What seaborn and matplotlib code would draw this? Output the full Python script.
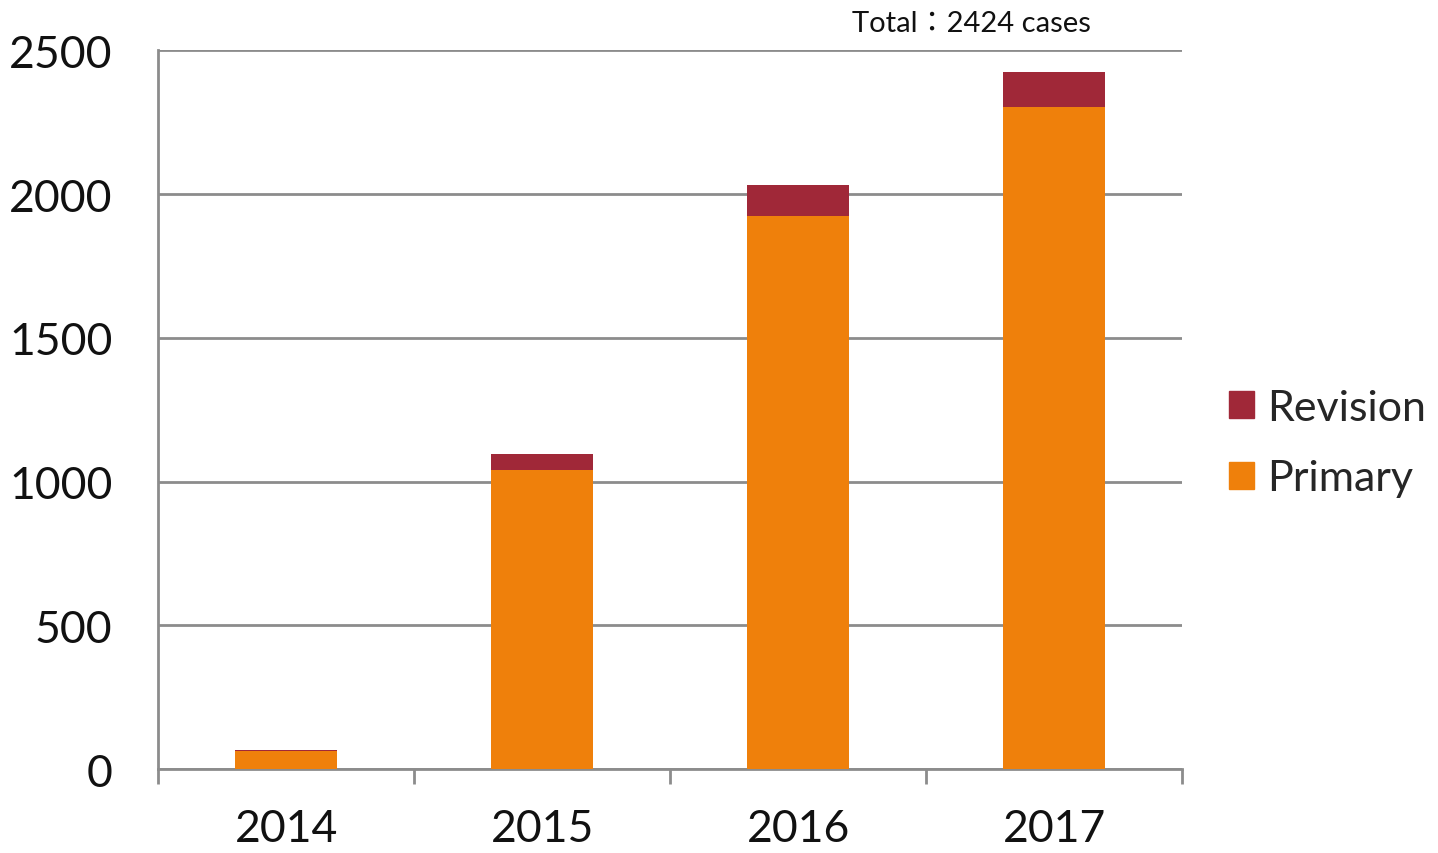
import matplotlib
matplotlib.use("Agg")
import matplotlib.pyplot as plt
import seaborn as sns
import pandas as pd
from matplotlib.patches import Patch

years = ["2014", "2015", "2016", "2017"]
primary = [65, 1041, 1922, 2303]
revision = [2, 55, 111, 121]
total_label = "Total\uff1a2424 cases"

sns.set_theme(style="white")
plt.rcParams['font.family'] = ['Lato', 'Noto Sans CJK JP', 'DejaVu Sans']

c_primary = "#EF800B"
c_revision = "#A02838"
grid_c = "#8C8C8C"

df = pd.DataFrame({"year": years, "primary": primary,
                   "total": [p + r for p, r in zip(primary, revision)]})

fig = plt.figure(figsize=(14.38, 8.54), dpi=100)
ax = fig.add_axes([0.110, 0.098, 0.712, 0.842])

sns.barplot(data=df, x="year", y="total", color=c_revision, width=0.4,
            saturation=1, ax=ax, zorder=3, linewidth=0)
sns.barplot(data=df, x="year", y="primary", color=c_primary, width=0.4,
            saturation=1, ax=ax, zorder=4, linewidth=0)

ax.set_ylim(0, 2500)
ax.set_xlim(-0.5, 3.5)
ax.set_yticks([0, 500, 1000, 1500, 2000, 2500])
ax.yaxis.grid(True, color=grid_c, linewidth=2, zorder=0)
ax.set_axisbelow(True)
for s in ["top", "right"]:
    ax.spines[s].set_visible(False)
ax.spines["left"].set_color(grid_c)
ax.spines["left"].set_linewidth(2)
ax.spines["bottom"].set_color(grid_c)
ax.spines["bottom"].set_linewidth(2)

ax.set_xlabel("")
ax.set_ylabel("")
ax.tick_params(axis="y", labelsize=32, length=0, pad=33, labelcolor="#111111")
ax.tick_params(axis="x", labelsize=32, length=0, pad=28, labelcolor="#111111")
# category boundary tick marks
ax.set_xticks([-0.5, 0.5, 1.5, 2.5, 3.5], minor=True)
ax.tick_params(axis="x", which="minor", bottom=True, length=11, width=2,
               color=grid_c, direction="out")

ax.text(2.676, 2594, total_label, ha="center", va="center", fontsize=21,
        color="#111111", family=['Lato', 'Noto Sans CJK JP'])

handles = [Patch(color=c_revision, label="Revision"), Patch(color=c_primary, label="Primary")]
fig.legend(handles=handles, loc="center left", bbox_to_anchor=(0.855, 0.480),
           frameon=False, fontsize=31, handlelength=0.58, handleheight=0.58,
           handletextpad=0.3, labelspacing=0.76, borderaxespad=0, borderpad=0)

fig.savefig("out.png", dpi=100, facecolor="white")
